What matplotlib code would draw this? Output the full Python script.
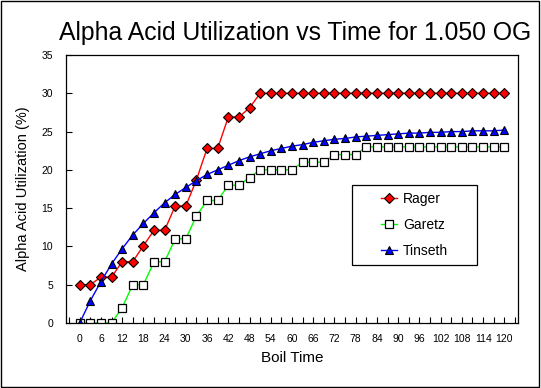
import matplotlib; matplotlib.use('Agg')
import matplotlib.pyplot as plt
from matplotlib.patches import Rectangle
from matplotlib.ticker import MultipleLocator

plt.rcParams['font.family'] = ['Liberation Sans', 'DejaVu Sans']

# Boil time (minutes), one point every 3 minutes
boil_time = list(range(0, 121, 3))

rager = [5.0, 5.0, 6.0, 6.0, 8.0, 8.0, 10.1, 12.1, 12.1, 15.3, 15.3, 18.7, 22.8, 22.8,
         26.9, 26.9, 28.1] + [30.0] * 24

garetz = [0, 0, 0, 0, 2, 5, 5, 8, 8, 11, 11, 14, 16, 16, 18, 18, 19,
          20, 20, 20, 20, 21, 21, 21, 22, 22, 22] + [23] * 14

tinseth = [0.0, 2.9, 5.4, 7.7, 9.7, 11.5, 13.0, 14.4, 15.7, 16.8, 17.7, 18.6, 19.4, 20.0,
           20.6, 21.2, 21.7, 22.1, 22.5, 22.8, 23.1, 23.3, 23.6, 23.8, 24.0, 24.1, 24.3,
           24.4, 24.5, 24.6, 24.7, 24.8, 24.8, 24.9, 24.9, 25.0, 25.0, 25.1, 25.1, 25.1, 25.2]

x_tick_labels = [str(t) for t in range(0, 121, 6)]

fig = plt.figure(figsize=(5.41, 3.88), dpi=100)
fig.patch.set_facecolor('white')
ax = fig.add_axes([0.1211, 0.1675, 0.8373, 0.6907])

ax.plot(boil_time, rager, color='#ff0000', lw=1, marker='D', markersize=5,
        markerfacecolor='#ff0000', markeredgecolor='black', markeredgewidth=0.8, label='Rager')
ax.plot(boil_time, garetz, color='#00ff00', lw=1, marker='s', markersize=5.5,
        markerfacecolor='white', markeredgecolor='black', markeredgewidth=0.9, label='Garetz')
ax.plot(boil_time, tinseth, color='#0000ff', lw=1, marker='^', markersize=6,
        markerfacecolor='#0000ff', markeredgecolor='black', markeredgewidth=0.8, label='Tinseth')

ax.set_xlim(-4, 124)
ax.set_ylim(0, 35)
ax.set_xticks(range(0, 121, 6))
ax.set_xticklabels(x_tick_labels)
ax.xaxis.set_minor_locator(MultipleLocator(3))
ax.yaxis.set_major_locator(MultipleLocator(5))
ax.tick_params(which='both', direction='in', length=4.3, width=0.8, labelsize=7.5,
               color='black')
ax.tick_params(axis='x', which='both', pad=8)
ax.tick_params(axis='y', pad=9)
for sp in ax.spines.values():
    sp.set_linewidth(0.9)

ax.set_xlabel('Boil Time', fontsize=11, labelpad=5)
ax.set_ylabel('Alpha Acid Utilization (%)', fontsize=10.5, labelpad=8)
fig.text(0.545, 0.915, 'Alpha Acid Utilization vs Time for 1.050 OG',
         ha='center', va='center', fontsize=17.8)

# legend box
ax.add_patch(Rectangle((0.632, 0.216), 0.276, 0.299, transform=ax.transAxes,
                       facecolor='white', edgecolor='black', lw=0.9, zorder=5))
leg = ax.legend(loc='center', bbox_to_anchor=(0.632, 0.216, 0.276, 0.299),
                frameon=False, fontsize=10, handlelength=1.2, handletextpad=0.4,
                labelspacing=0.85)
leg.set_zorder(6)

# figure border
fig.add_artist(Rectangle((0.001, 0.002), 0.996, 0.996, transform=fig.transFigure,
                         fill=False, edgecolor='black', lw=1))

fig.savefig('out.png', dpi=100)
